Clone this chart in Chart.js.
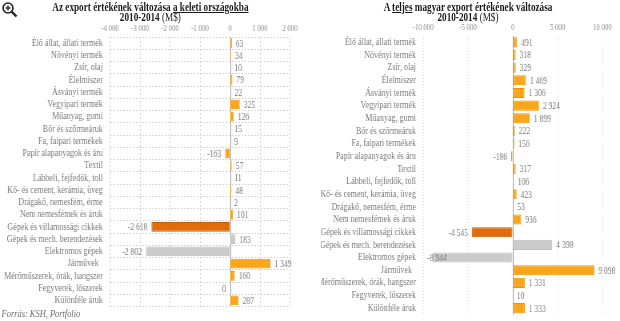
<!DOCTYPE html>
<html>
<head>
<meta charset="utf-8">
<script src="https://cdn.jsdelivr.net/npm/chart.js@4.4.1/dist/chart.umd.min.js"></script>
<style>
  html, body { margin: 0; padding: 0; background: #fff; overflow: hidden; }
  #wrap { position: absolute; left: 0; top: 0; width: 775px; height: 321px;
          transform: scaleX(0.8); transform-origin: 0 0; font-family: "Liberation Serif", serif; }
  canvas { position: absolute; top: 0; }
  #rightBox { position: absolute; left: 402px; top: 0; width: 373px; height: 321px; overflow: hidden; }
  .title { position: absolute; top: 2px; width: 360px; text-align: center;
           font-size: 11.5px; line-height: 10px; font-weight: bold; color: #1a1a1a; }
  .title span.n { font-weight: normal; }
  .title u { text-decoration-thickness: 1px; text-underline-offset: 1px; }
  #src { position: absolute; left: 2px; top: 308px; font-size: 10.5px; font-style: italic; color: #6b6b6b; }
  #zoom { position: absolute; left: 1px; top: 1px; }
</style>
</head>
<body>
<div id="wrap">
  <div class="title" style="left:8px">Az export értékének változása <u>a keleti országokba</u><br>2010-2014 <span class="n">(M$)</span></div>
  <div class="title" style="left:405px">A <u>teljes</u> magyar export értékének változása<br>2010-2014 <span class="n">(M$)</span></div>
  <canvas id="eastChart" width="390" height="321" style="left:0px"></canvas>
  <div id="rightBox"><canvas id="totalChart" width="376" height="321" style="left:-3px"></canvas></div>
  <div id="src">Forrás: KSH, Portfolio</div>
</div>
<svg id="zoom" width="18" height="18" viewBox="0 0 18 18">
  <circle cx="7" cy="7" r="5" fill="#fff" stroke="#222" stroke-width="1.6"/>
  <line x1="4.5" y1="7" x2="9.5" y2="7" stroke="#222" stroke-width="1.4"/>
  <line x1="7" y1="4.5" x2="7" y2="9.5" stroke="#222" stroke-width="1.4"/>
  <line x1="10.5" y1="10.5" x2="15.5" y2="15.5" stroke="#222" stroke-width="2.4"/>
</svg>
<script>
var categories = [
  "Élő állat, állati termék", "Növényi termék", "Zsír, olaj", "Élelmiszer",
  "Ásványi termék", "Vegyipari termék", "Műanyag, gumi", "Bőr és szőrmeáruk",
  "Fa, faipari termékek", "Papír alapanyagok és áru", "Textil",
  "Lábbeli, fejfedők, toll", "Kő- és cement, kerámia, üveg",
  "Drágakő, nemesfém, érme", "Nem nemesfémek és áruk",
  "Gépek és villamossági cikkek", "Gépek és mech. berendezések",
  "Elektromos gépek", "Járművek  ", "Mérőműszerek, órák, hangszer",
  "Fegyverek, lőszerek", "Különféle áruk"
];
var eastValues = [63, 34, 10, 79, 22, 325, 126, 15, 9, -163, 57, 11, 48, 2, 101,
  -2618, 183, -2802, 1349, 160, 0, 287];
var totalValues = [491, 318, 329, 1469, 1306, 2924, 1899, 222, 156, -186, 317, 106, 423, 53, 936,
  -4545, 4398, -8944, 9098, 1331, 10, 1333];
var eastTicks = [-4000, -3000, -2000, -1000, 0, 1000, 2000];
var totalTicks = [-10000, -5000, 0, 5000, 10000];

// bar colours: orange default, dark orange / grey for the machinery rows
var fillColors = categories.map(function (c, i) {
  if (i === 15) return "#e36c0a";
  if (i === 16 || i === 17) return "#cbcbcb";
  return "#faa61a";
});
var edgeColors = categories.map(function (c, i) {
  if (i === 15) return "#c95e08";
  if (i === 16 || i === 17) return "#bdbdbd";
  return "#f39200";
});

function fmt(v) {
  var s = Math.abs(v).toString().replace(/\B(?=(\d{3})+(?!\d))/g, " ");
  return (v < 0 ? "-" : "") + s;
}

var extras = {
  id: "extras",
  beforeDatasetsDraw: function (chart) {
    var ctx = chart.ctx, area = chart.chartArea;
    var x0 = Math.round(chart.scales.x.getPixelForValue(0)) + 0.5;
    ctx.save();
    ctx.strokeStyle = "#a0a0a0";
    ctx.lineWidth = 1;
    ctx.beginPath();
    ctx.moveTo(x0, area.top);
    ctx.lineTo(x0, area.bottom);
    ctx.stroke();
    ctx.restore();
  },
  afterDatasetsDraw: function (chart) {
    var ctx = chart.ctx, area = chart.chartArea;
    var vals = chart.data.datasets[0].data;
    ctx.save();
    ctx.font = '9.5px "Liberation Serif"';
    ctx.fillStyle = "#7a7a7a";
    ctx.textBaseline = "middle";
    chart.getDatasetMeta(0).data.forEach(function (bar, i) {
      var v = vals[i], txt = fmt(v), w = ctx.measureText(txt).width, tx;
      if (v > 0) tx = bar.x + 5;
      else tx = Math.max(bar.x - 5 - w, area.left + 5);
      ctx.fillText(txt, tx, bar.y + 1);
    });
    ctx.restore();
  }
};

function makeChart(id, values, ticks, opts) {
  return new Chart(document.getElementById(id), {
    type: "bar",
    data: {
      labels: categories,
      datasets: [{
        data: values,
        backgroundColor: fillColors,
        borderColor: edgeColors,
        borderWidth: 1,
        borderSkipped: false,
        barPercentage: 0.8,
        categoryPercentage: 1
      }]
    },
    options: {
      indexAxis: "y",
      responsive: false,
      animation: false,
      layout: { padding: { top: opts.top - 17, right: opts.right, bottom: opts.bottom, left: 0 } },
      plugins: { legend: { display: false }, tooltip: { enabled: false } },
      scales: {
        x: {
          position: "top",
          min: ticks[0],
          max: ticks[ticks.length - 1],
          afterBuildTicks: function (s) { s.ticks = ticks.map(function (v) { return { value: v }; }); },
          afterFit: function (s) { s.height = 17; s.paddingLeft = 0; s.paddingRight = 0; },
          grid: {
            drawTicks: false,
            color: function (c) { return c.tick && c.tick.value === 0 ? "rgba(0,0,0,0)" : opts.gridColor; }
          },
          border: { display: false, dash: opts.dash },
          ticks: {
            padding: 3,
            maxRotation: 0,
            color: "#8c8c8c",
            font: { family: "Liberation Serif", size: 8.5 },
            callback: function (v) { return fmt(v); }
          }
        },
        y: {
          afterFit: function (s) { s.width = opts.left; s.paddingTop = 0; s.paddingBottom = 0; },
          grid: { display: opts.rowLines, drawTicks: false, color: opts.gridColor },
          border: { display: false, dash: opts.dash },
          ticks: {
            padding: 9,
            autoSkip: false,
            color: "#7a7a7a",
            font: { family: "Liberation Serif", size: 10 }
          }
        }
      }
    },
    plugins: [extras]
  });
}

makeChart("eastChart", eastValues, eastTicks,
  { left: 137.5, right: 27.5, top: 37, bottom: 14.5, rowLines: true, gridColor: "#d4d4d4", dash: [2, 2] });
makeChart("totalChart", totalValues, totalTicks,
  { left: 130, right: 22, top: 36, bottom: 6.5, rowLines: false, gridColor: "#dcdcdc", dash: [1, 2] });
</script>
</body>
</html>
